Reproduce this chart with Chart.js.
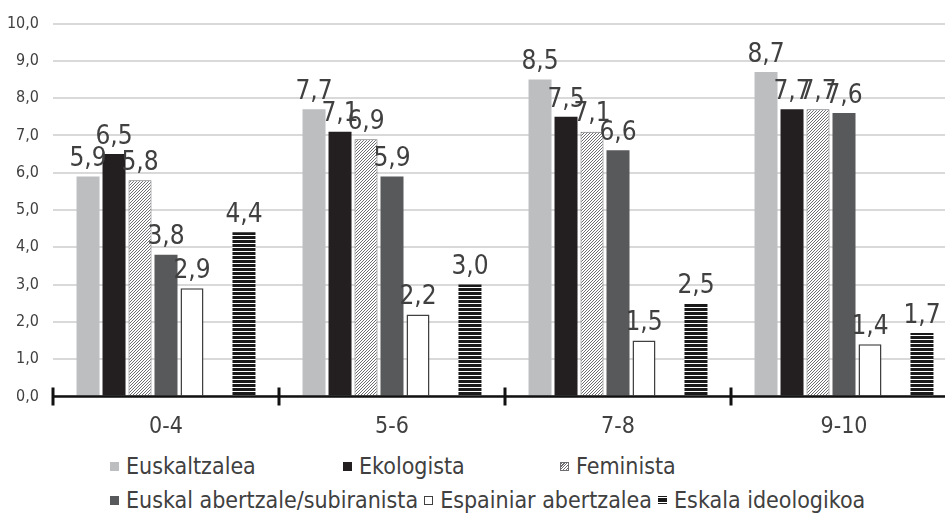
<!DOCTYPE html>
<html>
<head>
<meta charset="utf-8">
<script src="https://cdn.jsdelivr.net/npm/chart.js@4.4.1/dist/chart.umd.min.js"></script>
<style>
  html, body { margin: 0; padding: 0; background: #fff; overflow: hidden; }
  #wrap { position: relative; width: 945px; height: 514px; overflow: hidden; }
  #wrap canvas { position: absolute; left: 0; top: 0; }
  .fila { position: absolute; left: 110px; display: flex; align-items: center; height: 26px;
          font-family: "Liberation Sans Narrow", "DejaVu Sans Condensed", Roboto, sans-serif;
          font-size: 23px; color: #404040; white-space: nowrap; }
  .item { position: relative; display: flex; align-items: center; }
  .sw { width: 9px; height: 9px; box-sizing: border-box; margin-right: 7px; }
</style>
</head>
<body>
<div id="wrap">
  <canvas id="grafico" width="957" height="450"></canvas>
  <div class="fila" id="fila1" style="top:453px"></div>
  <div class="fila" id="fila2" style="top:487px"></div>
</div>
<script>
// datos
var categorias = ['0-4', '5-6', '7-8', '9-10'];
var series = ['Euskaltzalea', 'Ekologista', 'Feminista', 'Euskal abertzale/subiranista', 'Espainiar abertzalea', 'Eskala ideologikoa'];
var euskaltzalea = [5.9, 7.7, 8.5, 8.7];
var ekologista = [6.5, 7.1, 7.5, 7.7];
var feminista = [5.8, 6.9, 7.1, 7.7];
var abertzale = [3.8, 5.9, 6.6, 7.6];
var espainiar = [2.9, 2.2, 1.5, 1.4];
var eskala = [4.4, 3.0, 2.5, 1.7];
var yTicks = [0, 1, 2, 3, 4, 5, 6, 7, 8, 9, 10];

var fuente = '"Liberation Sans Narrow", "DejaVu Sans Condensed", Roboto, sans-serif';
var gris = '#404040';

function coma(v) { return v.toFixed(1).replace('.', ','); }

// tramas
function tramaDiagonal() {
  var c = document.createElement('canvas');
  c.width = 3; c.height = 3;
  var x = c.getContext('2d');
  x.fillStyle = '#fff'; x.fillRect(0, 0, 3, 3);
  x.strokeStyle = '#6d6e71'; x.lineWidth = 1;
  x.beginPath();
  x.moveTo(-1, 4); x.lineTo(4, -1);
  x.moveTo(-1, 1); x.lineTo(1, -1);
  x.moveTo(2, 4); x.lineTo(4, 2);
  x.stroke();
  return x.createPattern(c, 'repeat');
}
function tramaHorizontal() {
  var c = document.createElement('canvas');
  c.width = 4; c.height = 4;
  var x = c.getContext('2d');
  x.fillStyle = '#1a1a1a'; x.fillRect(0, 0, 4, 4);
  x.fillStyle = '#fff'; x.fillRect(0, 3, 4, 1);
  return x.createPattern(c, 'repeat');
}

var ctx = document.getElementById('grafico').getContext('2d');

var etiquetas = {
  id: 'etiquetas',
  afterDatasetsDraw: function (chart) {
    var c = chart.ctx;
    c.save();
    c.font = '26px ' + fuente;
    c.fillStyle = gris;
    c.textAlign = 'center';
    c.textBaseline = 'bottom';
    chart.data.datasets.forEach(function (ds, i) {
      if (!ds.label) return;
      chart.getDatasetMeta(i).data.forEach(function (bar, j) {
        c.fillText(coma(ds.data[j]), bar.x, bar.y - 4);
      });
    });
    c.restore();
  }
};

var ejeX = {
  id: 'ejeX',
  afterDatasetsDraw: function (chart) {
    var a = chart.chartArea, c = chart.ctx;
    var n = chart.data.labels.length;
    var w = (a.right - a.left) / n;
    c.save();
    c.strokeStyle = '#111';
    c.lineWidth = 2.5;
    c.beginPath();
    c.moveTo(a.left, a.bottom); c.lineTo(a.right, a.bottom);
    c.stroke();
    c.lineWidth = 3;
    c.beginPath();
    for (var i = 0; i <= n; i++) {
      var x = a.left + i * w;
      c.moveTo(x, a.bottom - 9); c.lineTo(x, a.bottom + 9);
    }
    c.stroke();
    c.restore();
  }
};

var grafico = new Chart(ctx, {
  type: 'bar',
  data: {
    labels: categorias,
    datasets: [
      { label: series[0], data: euskaltzalea, backgroundColor: '#bcbec0', borderWidth: 0 },
      { label: series[1], data: ekologista, backgroundColor: '#231f20', borderWidth: 0 },
      { label: series[2], data: feminista, backgroundColor: tramaDiagonal(), borderColor: '#6d6e71', borderWidth: 1 },
      { label: series[3], data: abertzale, backgroundColor: '#58595b', borderWidth: 0 },
      { label: series[4], data: espainiar, backgroundColor: '#ffffff', borderColor: '#404040', borderWidth: 1.5 },
      { label: '', data: [null, null, null, null] },  // hueco
      { label: series[5], data: eskala, backgroundColor: tramaHorizontal(), borderWidth: 0 }
    ]
  },
  options: {
    responsive: false,
    animation: false,
    layout: { padding: { left: 0, right: 0, top: 21, bottom: 0 } },
    datasets: { bar: { categoryPercentage: 0.805, barPercentage: 0.885 } },
    plugins: { legend: { display: false }, tooltip: { enabled: false } },
    scales: {
      x: {
        grid: { display: false },
        border: { display: false },
        ticks: { color: gris, font: { family: fuente, size: 23 }, padding: 9 }
      },
      y: {
        min: 0, max: 10,
        afterBuildTicks: function (s) { s.ticks = yTicks.map(function (v) { return { value: v }; }); },
        afterFit: function (s) { s.width = 53; },
        grid: { color: '#d9d9d9', lineWidth: 2, drawTicks: false },
        border: { display: false },
        ticks: { color: gris, font: { family: fuente, size: 16 }, padding: 14, callback: function (v) { return coma(v); } }
      }
    }
  },
  plugins: [etiquetas, ejeX]
});

// leyenda en HTML, dos filas como en el original
var muestras = [
  { bg: '#bcbec0' },
  { bg: '#231f20' },
  { bg: 'repeating-linear-gradient(-45deg, #fff 0 1px, #6d6e71 1px 2px)', border: '1px solid #6d6e71' },
  { bg: '#58595b' },
  { bg: '#fff', border: '1px solid #404040' },
  { bg: 'repeating-linear-gradient(to bottom, #1a1a1a 0 1.5px, #fff 1.5px 2.2px)' }
];
// primera fila en columnas (x de inicio), segunda fila seguida
var columnas = [0, 233, 450];
series.forEach(function (nombre, i) {
  var it = document.createElement('div');
  it.className = 'item';
  var s = document.createElement('div');
  s.className = 'sw';
  s.style.background = muestras[i].bg;
  if (muestras[i].border) s.style.border = muestras[i].border;
  it.appendChild(s);
  var t = document.createElement('span');
  t.textContent = nombre;
  it.appendChild(t);
  if (i < 3) {
    it.style.position = 'absolute';
    it.style.left = columnas[i] + 'px';
    document.getElementById('fila1').appendChild(it);
  } else {
    it.style.marginRight = '6px';
    document.getElementById('fila2').appendChild(it);
  }
});
</script>
</body>
</html>
